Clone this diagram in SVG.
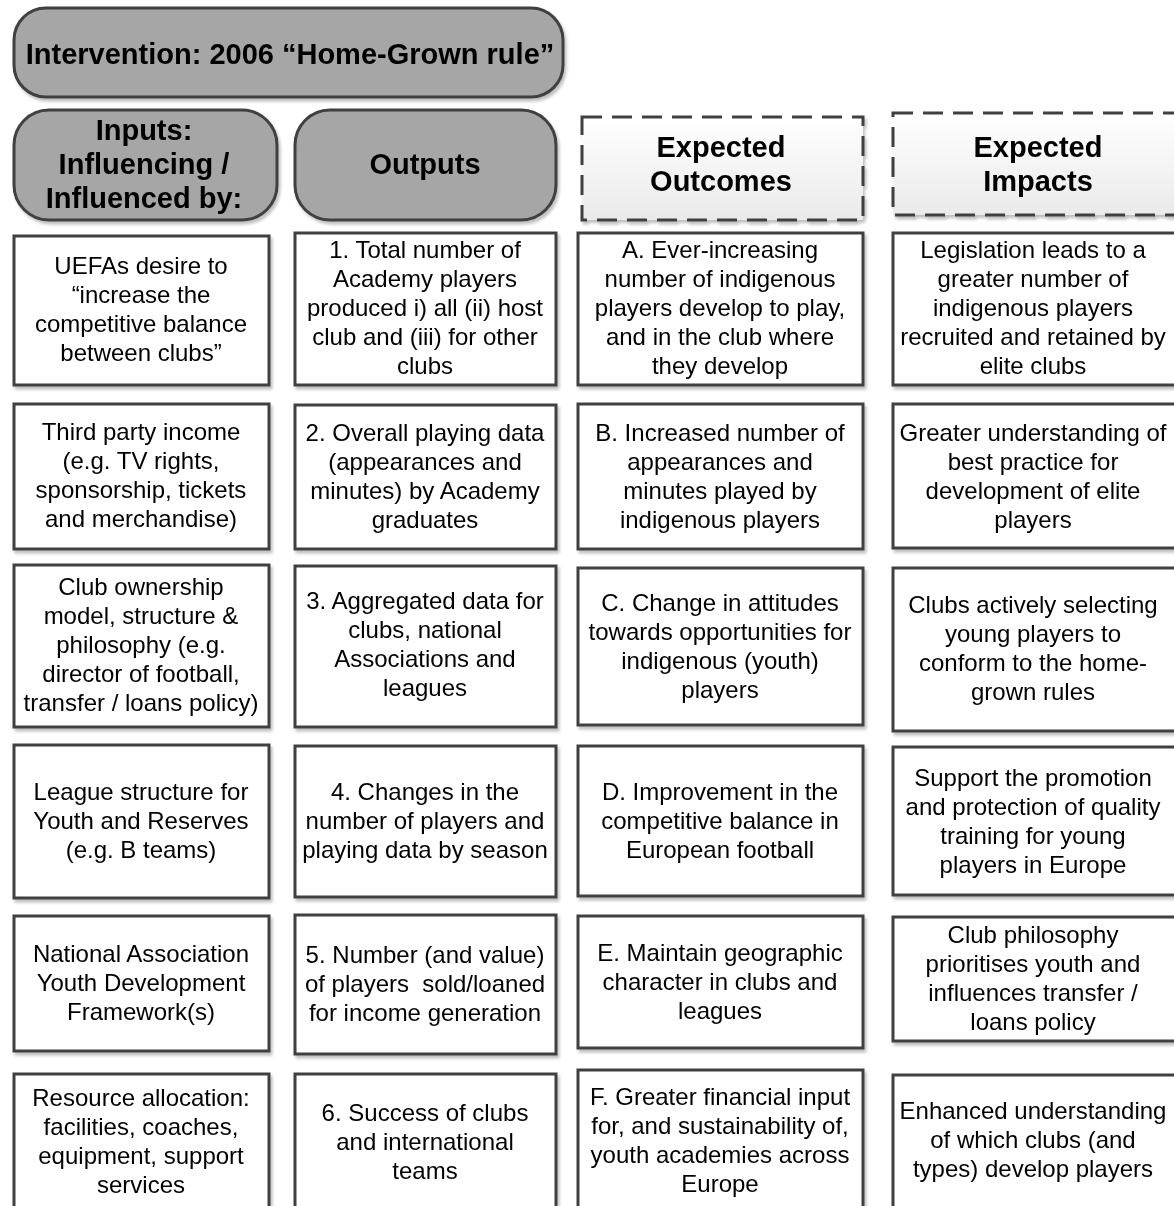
<svg xmlns="http://www.w3.org/2000/svg" width="1174" height="1206" viewBox="0 0 1174 1206">
<style>
  .box{fill:#ffffff;stroke:#3f3f3f;stroke-width:3}
  .hdr{fill:#a6a6a6;stroke:#3f3f3f;stroke-width:3}
  .dash{fill:url(#dg);stroke:#3f3f3f;stroke-width:3;stroke-dasharray:20 10}
  .sh{filter:url(#shadow)}
  text{font-family:"Liberation Sans",Arial,sans-serif;fill:#000;text-anchor:middle}
  .t{font-size:24px}
  .h{font-size:29px;font-weight:bold}
</style>
<defs>
  <linearGradient id="dg" x1="0" y1="0" x2="0" y2="1">
    <stop offset="0" stop-color="#ffffff"/>
    <stop offset="1" stop-color="#eaeaea"/>
  </linearGradient>
  <filter id="shadow" x="-5%" y="-5%" width="115%" height="115%">
    <feDropShadow dx="2" dy="3" stdDeviation="1.5" flood-color="#808080" flood-opacity="0.5"/>
  </filter>
</defs>
<rect width="1174" height="1206" fill="#ffffff"/>

<g id="intervention" class="sh"><rect class="hdr" x="14" y="8" width="549" height="89" rx="32"/>
<text class="h" x="290" y="64">Intervention: 2006 “Home-Grown rule”</text></g>

<g id="hdr-inputs" class="sh"><rect class="hdr" x="14" y="110" width="263" height="110" rx="35"/>
<text class="h" x="144"><tspan x="144" y="140">Inputs:</tspan><tspan x="144" y="174">Influencing /</tspan><tspan x="144" y="208">Influenced by:</tspan></text></g>

<g id="hdr-outputs" class="sh"><rect class="hdr" x="295" y="110" width="261" height="110" rx="35"/>
<text class="h" x="425" y="174">Outputs</text></g>

<g id="hdr-outcomes" class="sh"><rect class="dash" x="582" y="117" width="281" height="103"/>
<text class="h"><tspan x="721" y="157">Expected</tspan><tspan x="721" y="191">Outcomes</tspan></text></g>

<g id="hdr-impacts" class="sh"><rect class="dash" x="893" y="113" width="290" height="102"/>
<text class="h"><tspan x="1038" y="157">Expected</tspan><tspan x="1038" y="191">Impacts</tspan></text></g>

<!-- Column 1: Inputs -->
<g id="in1" class="sh"><rect class="box" x="14" y="236" width="255" height="149"/>
<text class="t"><tspan x="141" y="274">UEFAs desire to</tspan><tspan x="141" y="303">“increase the</tspan><tspan x="141" y="332">competitive balance</tspan><tspan x="141" y="361">between clubs”</tspan></text></g>
<g id="in2" class="sh"><rect class="box" x="14" y="404" width="255" height="145"/>
<text class="t"><tspan x="141" y="440">Third party income</tspan><tspan x="141" y="469">(e.g. TV rights,</tspan><tspan x="141" y="498">sponsorship, tickets</tspan><tspan x="141" y="527">and merchandise)</tspan></text></g>
<g id="in3" class="sh"><rect class="box" x="14" y="565" width="255" height="162"/>
<text class="t"><tspan x="141" y="595">Club ownership</tspan><tspan x="141" y="624">model, structure &amp;</tspan><tspan x="141" y="653">philosophy (e.g.</tspan><tspan x="141" y="682">director of football,</tspan><tspan x="141" y="711">transfer / loans policy)</tspan></text></g>
<g id="in4" class="sh"><rect class="box" x="14" y="745" width="255" height="153"/>
<text class="t"><tspan x="141" y="800">League structure for</tspan><tspan x="141" y="829">Youth and Reserves</tspan><tspan x="141" y="858">(e.g. B teams)</tspan></text></g>
<g id="in5" class="sh"><rect class="box" x="14" y="916" width="255" height="135"/>
<text class="t"><tspan x="141" y="962">National Association</tspan><tspan x="141" y="991">Youth Development</tspan><tspan x="141" y="1020">Framework(s)</tspan></text></g>
<g id="in6" class="sh"><rect class="box" x="14" y="1074" width="255" height="150"/>
<text class="t"><tspan x="141" y="1106">Resource allocation:</tspan><tspan x="141" y="1135">facilities, coaches,</tspan><tspan x="141" y="1164">equipment, support</tspan><tspan x="141" y="1193">services</tspan></text></g>

<!-- Column 2: Outputs -->
<g id="out1" class="sh"><rect class="box" x="295" y="233" width="261" height="152"/>
<text class="t"><tspan x="425" y="258">1. Total number of</tspan><tspan x="425" y="287">Academy players</tspan><tspan x="425" y="316">produced i) all (ii) host</tspan><tspan x="425" y="345">club and (iii) for other</tspan><tspan x="425" y="374">clubs</tspan></text></g>
<g id="out2" class="sh"><rect class="box" x="295" y="405" width="261" height="144"/>
<text class="t"><tspan x="425" y="441">2. Overall playing data</tspan><tspan x="425" y="470">(appearances and</tspan><tspan x="425" y="499">minutes) by Academy</tspan><tspan x="425" y="528">graduates</tspan></text></g>
<g id="out3" class="sh"><rect class="box" x="295" y="566" width="261" height="161"/>
<text class="t"><tspan x="425" y="609">3. Aggregated data for</tspan><tspan x="425" y="638">clubs, national</tspan><tspan x="425" y="667">Associations and</tspan><tspan x="425" y="696">leagues</tspan></text></g>
<g id="out4" class="sh"><rect class="box" x="295" y="746" width="261" height="151"/>
<text class="t"><tspan x="425" y="800">4. Changes in the</tspan><tspan x="425" y="829">number of players and</tspan><tspan x="425" y="858">playing data by season</tspan></text></g>
<g id="out5" class="sh"><rect class="box" x="295" y="915" width="261" height="139"/>
<text class="t" style="white-space:pre"><tspan x="425" y="963">5. Number (and value)</tspan><tspan x="425" y="992">of players  sold/loaned</tspan><tspan x="425" y="1021">for income generation</tspan></text></g>
<g id="out6" class="sh"><rect class="box" x="295" y="1074" width="261" height="150"/>
<text class="t"><tspan x="425" y="1121">6. Success of clubs</tspan><tspan x="425" y="1150">and international</tspan><tspan x="425" y="1179">teams</tspan></text></g>

<!-- Column 3: Outcomes -->
<g id="oc-a" class="sh"><rect class="box" x="578" y="233" width="285" height="152"/>
<text class="t"><tspan x="720" y="258">A. Ever-increasing</tspan><tspan x="720" y="287">number of indigenous</tspan><tspan x="720" y="316">players develop to play,</tspan><tspan x="720" y="345">and in the club where</tspan><tspan x="720" y="374">they develop</tspan></text></g>
<g id="oc-b" class="sh"><rect class="box" x="578" y="404" width="285" height="145"/>
<text class="t"><tspan x="720" y="441">B. Increased number of</tspan><tspan x="720" y="470">appearances and</tspan><tspan x="720" y="499">minutes played by</tspan><tspan x="720" y="528">indigenous players</tspan></text></g>
<g id="oc-c" class="sh"><rect class="box" x="578" y="568" width="285" height="157"/>
<text class="t"><tspan x="720" y="611">C. Change in attitudes</tspan><tspan x="720" y="640">towards opportunities for</tspan><tspan x="720" y="669">indigenous (youth)</tspan><tspan x="720" y="698">players</tspan></text></g>
<g id="oc-d" class="sh"><rect class="box" x="578" y="746" width="285" height="150"/>
<text class="t"><tspan x="720" y="800">D. Improvement in the</tspan><tspan x="720" y="829">competitive balance in</tspan><tspan x="720" y="858">European football</tspan></text></g>
<g id="oc-e" class="sh"><rect class="box" x="578" y="916" width="285" height="132"/>
<text class="t"><tspan x="720" y="961">E. Maintain geographic</tspan><tspan x="720" y="990">character in clubs and</tspan><tspan x="720" y="1019">leagues</tspan></text></g>
<g id="oc-f" class="sh"><rect class="box" x="578" y="1070" width="285" height="154"/>
<text class="t"><tspan x="720" y="1105">F. Greater financial input</tspan><tspan x="720" y="1134">for, and sustainability of,</tspan><tspan x="720" y="1163">youth academies across</tspan><tspan x="720" y="1192">Europe</tspan></text></g>

<!-- Column 4: Impacts -->
<g id="im1" class="sh"><rect class="box" x="893" y="233" width="290" height="152"/>
<text class="t"><tspan x="1033" y="258">Legislation leads to a</tspan><tspan x="1033" y="287">greater number of</tspan><tspan x="1033" y="316">indigenous players</tspan><tspan x="1033" y="345">recruited and retained by</tspan><tspan x="1033" y="374">elite clubs</tspan></text></g>
<g id="im2" class="sh"><rect class="box" x="893" y="404" width="290" height="144"/>
<text class="t"><tspan x="1033" y="441">Greater understanding of</tspan><tspan x="1033" y="470">best practice for</tspan><tspan x="1033" y="499">development of elite</tspan><tspan x="1033" y="528">players</tspan></text></g>
<g id="im3" class="sh"><rect class="box" x="893" y="568" width="290" height="163"/>
<text class="t"><tspan x="1033" y="613">Clubs actively selecting</tspan><tspan x="1033" y="642">young players to</tspan><tspan x="1033" y="671">conform to the home-</tspan><tspan x="1033" y="700">grown rules</tspan></text></g>
<g id="im4" class="sh"><rect class="box" x="893" y="747" width="290" height="148"/>
<text class="t"><tspan x="1033" y="786">Support the promotion</tspan><tspan x="1033" y="815">and protection of quality</tspan><tspan x="1033" y="844">training for young</tspan><tspan x="1033" y="873">players in Europe</tspan></text></g>
<g id="im5" class="sh"><rect class="box" x="893" y="917" width="290" height="124"/>
<text class="t"><tspan x="1033" y="943">Club philosophy</tspan><tspan x="1033" y="972">prioritises youth and</tspan><tspan x="1033" y="1001">influences transfer /</tspan><tspan x="1033" y="1030">loans policy</tspan></text></g>
<g id="im6" class="sh"><rect class="box" x="893" y="1075" width="290" height="150"/>
<text class="t"><tspan x="1033" y="1119">Enhanced understanding</tspan><tspan x="1033" y="1148">of which clubs (and</tspan><tspan x="1033" y="1177">types) develop players</tspan></text></g>

<g id="connectors"></g>
</svg>
